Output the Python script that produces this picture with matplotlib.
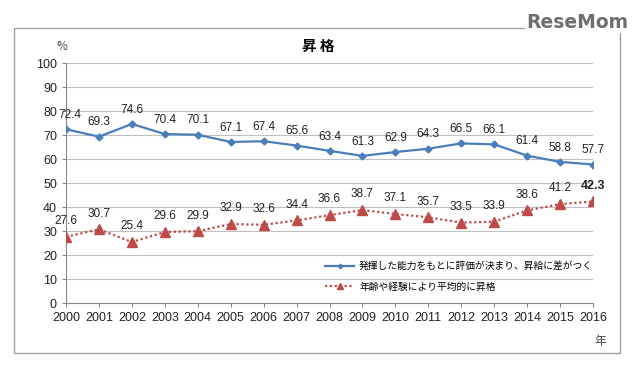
import matplotlib
matplotlib.use("Agg")
import matplotlib.pyplot as plt
from matplotlib.patches import Rectangle

plt.rcParams['font.family'] = ['Noto Sans CJK JP', 'DejaVu Sans']

years = [2000, 2001, 2002, 2003, 2004, 2005, 2006, 2007, 2008,
         2009, 2010, 2011, 2012, 2013, 2014, 2015, 2016]
ability = [72.4, 69.3, 74.6, 70.4, 70.1, 67.1, 67.4, 65.6, 63.4,
           61.3, 62.9, 64.3, 66.5, 66.1, 61.4, 58.8, 57.7]
seniority = [27.6, 30.7, 25.4, 29.6, 29.9, 32.9, 32.6, 34.4, 36.6,
             38.7, 37.1, 35.7, 33.5, 33.9, 38.6, 41.2, 42.3]
label_ability = '発揮した能力をもとに評価が決まり、昇給に差がつく'
label_seniority = '年齢や経験により平均的に昇格'
title = '昇 格'
yticks = [0, 10, 20, 30, 40, 50, 60, 70, 80, 90, 100]

blue = '#4a7ebb'
red = '#be4b48'
numfont = 'Liberation Sans'

fig = plt.figure(figsize=(6.4, 3.7), dpi=100)
fig.patches.append(Rectangle((14/640, 1-353/370), (620-14)/640, (353-28)/370,
                             transform=fig.transFigure, fill=False,
                             edgecolor='#a0a0a0', lw=1.0))
ax = fig.add_axes([66/640, 1-303/370, (593-66)/640, (303-63)/370])

ax.plot(years, ability, color=blue, lw=1.6, marker='D', markersize=3.5,
        label=label_ability, zorder=3)
ax.plot(years, seniority, color=red, lw=1.6, ls=(0, (1, 1.2)), marker='^',
        markersize=7, label=label_seniority, zorder=3)

for i, (x, v) in enumerate(zip(years, ability)):
    ax.annotate(f'{v:.1f}', (x, v), xytext=(3 if i == 0 else 0, 6),
                textcoords='offset points', ha='center', va='bottom',
                fontsize=8.5, family=numfont, color='#222222')
for x, v in zip(years, seniority):
    last = (x == years[-1])
    ax.annotate(f'{v:.1f}', (x, v), xytext=(0, 7), textcoords='offset points',
                ha='center', va='bottom', fontsize=9 if last else 8.5,
                fontweight='bold' if last else 'normal',
                family=numfont, color='#222222')

ax.set_xlim(2000, 2016)
ax.set_ylim(0, 100)
ax.set_yticks(yticks)
ax.set_xticks(years)
ax.tick_params(axis='both', labelsize=9, colors='#222222', length=3,
               color='#888888')
for lbl in ax.get_xticklabels() + ax.get_yticklabels():
    lbl.set_family(numfont)
ax.grid(axis='y', color='#bfbfbf', lw=0.8)
ax.set_axisbelow(True)
for s in ['top', 'right']:
    ax.spines[s].set_visible(False)
ax.spines['left'].set_color('#888888')
ax.spines['bottom'].set_color('#888888')

leg = ax.legend(loc='lower left', bbox_to_anchor=(0.475, 0.01), frameon=False,
                fontsize=7, handlelength=3.0, handletextpad=0.5,
                labelspacing=1.1, markerscale=0.65)

fig.text(318/640, 1-46/370, title, ha='center', va='center', fontsize=10.5,
         fontweight='bold')
fig.text(62/640, 1-46/370, '%', ha='center', va='center', fontsize=8.5,
         color='#444444')
fig.text(600/640, 1-342/370, '年', ha='center', va='center', fontsize=8.5,
         color='#444444')
fig.text(628/640, 1-22/370, 'ReseMom', ha='right', va='center', fontsize=13.5,
         fontweight='bold', color='#6e6e6e', family='DejaVu Sans',
         bbox=dict(facecolor='white', edgecolor='none', pad=1))

fig.savefig('out.png', dpi=100)
